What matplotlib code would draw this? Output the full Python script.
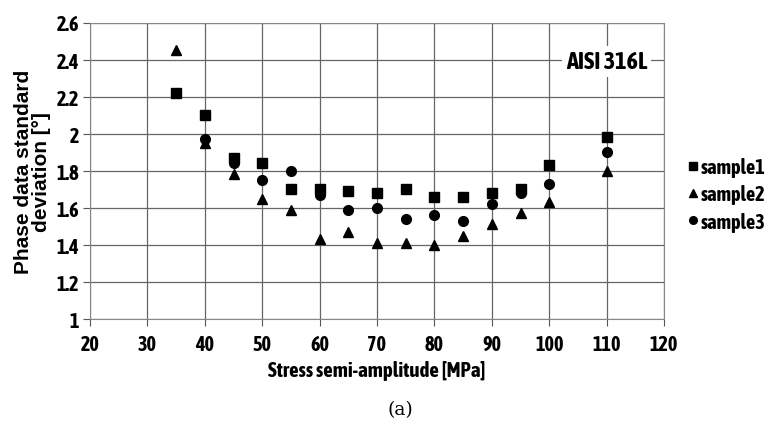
import matplotlib
matplotlib.use("Agg")
import matplotlib.pyplot as plt
from matplotlib import font_manager

# the reference uses an Arial Narrow Bold look, pick a narrow font that has a bold face
narrow = None
for f in font_manager.fontManager.ttflist:
    if ('Narrow' in f.name or 'Condensed' in f.name) and f.weight in (700, 'bold'):
        narrow = f.name
        break
if narrow is None:
    narrow = 'Liberation Sans'
plt.rcParams['font.family'] = [narrow, 'DejaVu Sans']

stress = [35, 40, 45, 50, 55, 60, 65, 70, 75, 80, 85, 90, 95, 100, 110]
sample1 = [2.22, 2.10, 1.87, 1.84, 1.70, 1.70, 1.69, 1.68, 1.70, 1.66, 1.66, 1.68, 1.70, 1.83, 1.98]
sample2 = [2.45, 1.95, 1.78, 1.65, 1.59, 1.43, 1.47, 1.41, 1.41, 1.40, 1.45, 1.51, 1.57, 1.63, 1.80]
stress3 = [40, 45, 50, 55, 60, 65, 70, 75, 80, 85, 90, 95, 100, 110]
sample3 = [1.97, 1.84, 1.75, 1.80, 1.67, 1.59, 1.60, 1.54, 1.56, 1.53, 1.62, 1.68, 1.73, 1.90]

fig = plt.figure(figsize=(7.71, 4.31), dpi=100)
ax = fig.add_axes([90/771, 1-320/431, (664-90)/771, (320-23.5)/431])

ax.plot(stress, sample1, 's', color='black', ms=6.5, label='sample1', zorder=3)
ax.plot(stress, sample2, '^', color='black', ms=7, label='sample2', zorder=3)
ax.plot(stress3, sample3, 'o', color='black', ms=7, label='sample3', zorder=3)

ax.set_xlim(20, 120)
ax.set_ylim(1, 2.6)
ax.set_xticks(range(20, 121, 10))
ax.set_yticks([1, 1.2, 1.4, 1.6, 1.8, 2, 2.2, 2.4, 2.6])
ax.set_yticklabels(['1', '1.2', '1.4', '1.6', '1.8', '2', '2.2', '2.4', '2.6'])
ax.grid(True, color='#666666', lw=0.9)
ax.set_axisbelow(True)
for s in ax.spines.values():
    s.set_color('#888888')
ax.tick_params(direction='out', length=5, color='#555555', labelsize=14.5, pad=3)
ax.tick_params(axis='x', pad=6)
for lab in ax.get_xticklabels() + ax.get_yticklabels():
    lab.set_fontweight('bold')

ax.set_xlabel('Stress semi-amplitude [MPa]', fontsize=15, fontweight='bold', labelpad=4)
ax.set_ylabel('Phase data standard\ndeviation [°]', fontsize=15, fontweight='bold',
              family=['Liberation Sans', 'DejaVu Sans'], linespacing=0.9)
ax.yaxis.set_label_coords(-0.068, 0.5)

ax.text(110, 2.39, 'AISI 316L', fontsize=17.5, fontweight='bold', ha='center', va='center',
        bbox=dict(facecolor='white', edgecolor='none', pad=3), zorder=4)

leg = ax.legend(loc='center left', bbox_to_anchor=(1.04, 0.42), frameon=False,
                handletextpad=0.1, handlelength=0.6, labelspacing=0.35, borderaxespad=0,
                borderpad=0, prop={'weight': 'bold', 'size': 14.5})
for h in leg.legend_handles:
    h.set_markersize(5.5)

fig.text(400/771, 1-410/431, '(a)', ha='center', va='center', fontsize=13.5,
         family=['DejaVu Serif'])

fig.savefig('out.png', dpi=100)
